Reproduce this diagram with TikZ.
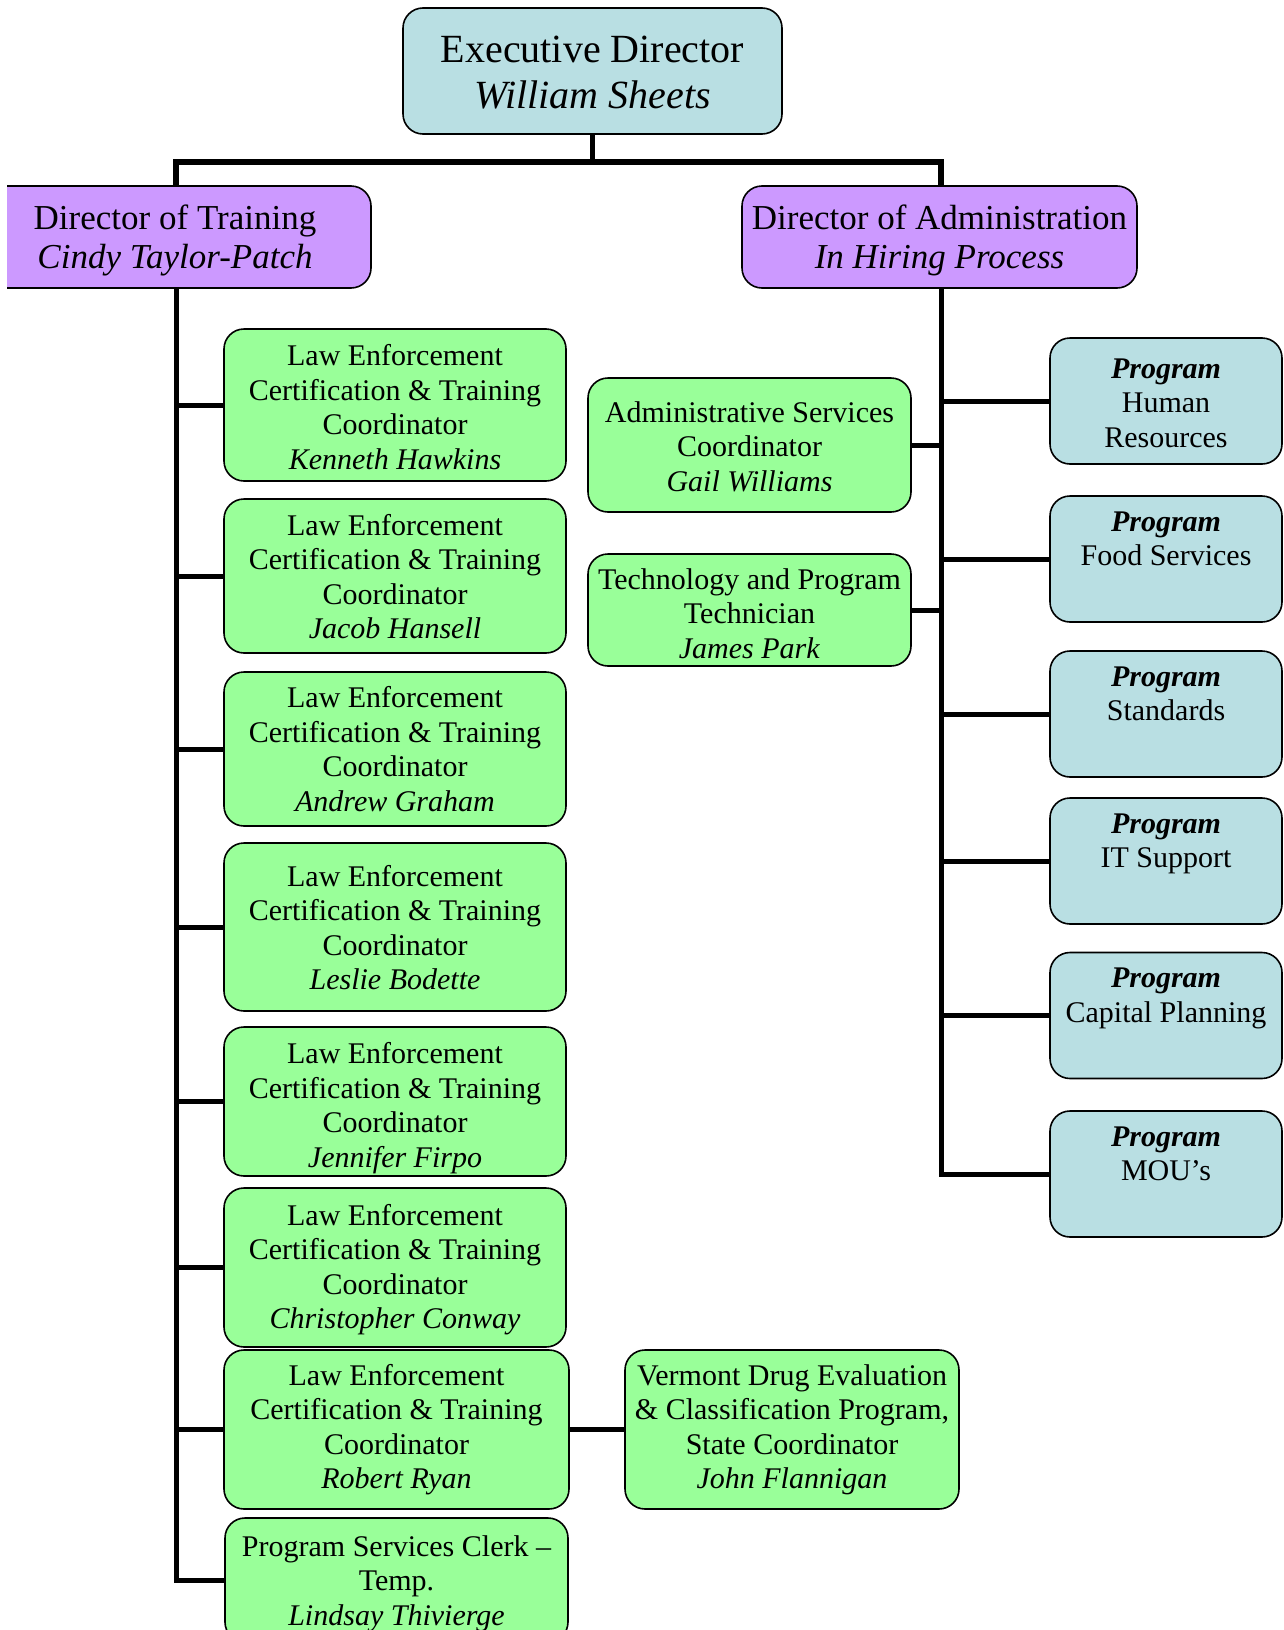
\documentclass[tikz,border=0pt]{standalone}
\usepackage{fontspec}
\setmainfont{Liberation Serif}
\definecolor{bluefill}{RGB}{185,223,227}
\definecolor{purplefill}{RGB}{204,153,255}
\definecolor{greenfill}{RGB}{153,255,153}
\newcommand\toppad[1]{\rule{0pt}{#1pt}}
\begin{document}
\begin{tikzpicture}[x=1pt,y=-1pt,
 orgbox/.style={draw=black, line width=1.6pt, rounded corners=20pt, align=center, inner sep=0pt},
 gbox/.style={orgbox, fill=greenfill, font=\fontsize{30}{34.5}\selectfont},
 le/.style={gbox, minimum width=342pt},
 bbox/.style={orgbox, fill=bluefill, minimum width=232pt, minimum height=126pt, font=\fontsize{30}{34.5}\selectfont},
 pbox/.style={orgbox, fill=purplefill, minimum height=102pt, font=\fontsize{35}{39}\selectfont},
 conn/.style={draw=black, line width=5pt, line join=miter},
]
\useasboundingbox (0,0) rectangle (1283,1630);
\clip (0,0) rectangle (1283,1630);
\fill[white] (0,0) rectangle (1283,1630);

% coordinates for trunks
\coordinate (lx) at (176,0);
\coordinate (rx) at (941,0);
\coordinate (bar) at (0,162);

% top
\node[orgbox, fill=bluefill, minimum width=379pt, minimum height=126pt, font=\fontsize{40}{46}\selectfont] (ed) at (592.5,71) {\toppad{30}Executive Director\\\textit{William Sheets}};
\node[pbox, minimum width=392pt] (dt) at (175,237) {\toppad{31}Director of Training\\\textit{Cindy Taylor-Patch}};
\fill[white] (0,170) rectangle (7,300);
\node[pbox, minimum width=395pt] (da) at (939.5,237) {\toppad{31}Director of Administration\\\textit{In Hiring Process}};

% left column
\node[le, minimum height=152pt] (le1) at (395,405) {\toppad{25}Law Enforcement\\Certification \& Training\\Coordinator\\\textit{Kenneth Hawkins}};
\node[le, minimum height=154pt] (le2) at (395,576) {\toppad{22}Law Enforcement\\Certification \& Training\\Coordinator\\\textit{Jacob Hansell}};
\node[le, minimum height=154pt] (le3) at (395,749) {\toppad{20}Law Enforcement\\Certification \& Training\\Coordinator\\\textit{Andrew Graham}};
\node[le, minimum height=168pt] (le4) at (395,927) {\toppad{22}Law Enforcement\\Certification \& Training\\Coordinator\\\textit{Leslie Bodette}};
\node[le, minimum height=149pt] (le5) at (395,1101.5) {\toppad{34}Law Enforcement\\Certification \& Training\\Coordinator\\\textit{Jennifer Firpo}};
\node[le, minimum height=159pt] (le6) at (395,1267.5) {\toppad{25}Law Enforcement\\Certification \& Training\\Coordinator\\\textit{Christopher Conway}};
\node[le, minimum width=345pt, minimum height=159pt] (le7) at (396.5,1429.5) {\toppad{21}Law Enforcement\\Certification \& Training\\Coordinator\\\textit{Robert Ryan}};
\node[gbox, minimum width=343pt, minimum height=124pt] (clerk) at (396.5,1580) {\toppad{28}Program Services Clerk --\\Temp.\\\textit{Lindsay Thivierge}};

\node[gbox, minimum width=334pt, minimum height=159pt] (vd) at (792,1429.5) {\toppad{21}Vermont Drug Evaluation\\\& Classification Program,\\State Coordinator\\\textit{John Flannigan}};

% middle column
\node[gbox, minimum width=323pt, minimum height=134pt] (as) at (749.5,445) {\toppad{24}Administrative Services\\Coordinator\\\textit{Gail Williams}};
\node[gbox, minimum width=323pt, minimum height=112pt] (tp) at (749.5,610) {\toppad{28}Technology and Program\\Technician\\\textit{James Park}};

% right column
\node[bbox] (hr) at (1166,401) {\toppad{24}\textbf{\textit{Program}}\\Human\\Resources};
\node[bbox] (fs) at (1166,559) {\toppad{24}\textbf{\textit{Program}}\\Food Services\\\strut};
\node[bbox] (st) at (1166,714) {\toppad{24}\textbf{\textit{Program}}\\Standards\\\strut};
\node[bbox] (it) at (1166,861) {\toppad{24}\textbf{\textit{Program}}\\IT Support\\\strut};
\node[bbox] (cp) at (1166,1015.5) {\toppad{24}\textbf{\textit{Program}}\\Capital Planning\\\strut};
\node[bbox] (mou) at (1166,1174) {\toppad{24}\textbf{\textit{Program}}\\MOU’s\\\strut};

% connectors: top
\draw[conn, line width=4.5pt] (ed.south) -- (ed.south |- bar);
\draw[conn, line width=6.5pt] (lx |- dt.north) -- (lx |- bar) -- (rx |- bar) -- (rx |- da.north);

% left trunk
\draw[conn] (lx |- dt.south) -- (lx |- clerk.west) -- (clerk.west);
\foreach \n in {le1,le2,le3,le4,le5,le6,le7}
  \draw[conn] (lx |- \n.west) -- (\n.west);
\draw[conn] (le7.east) -- (vd.west);

% right trunk
\draw[conn] (rx |- da.south) -- (rx |- mou.west) -- (mou.west);
\foreach \n in {hr,fs,st,it,cp}
  \draw[conn] (rx |- \n.west) -- (\n.west);
\draw[conn] (as.east) -- (rx |- as.east);
\draw[conn] (tp.east) -- (rx |- tp.east);
\end{tikzpicture}
\end{document}
